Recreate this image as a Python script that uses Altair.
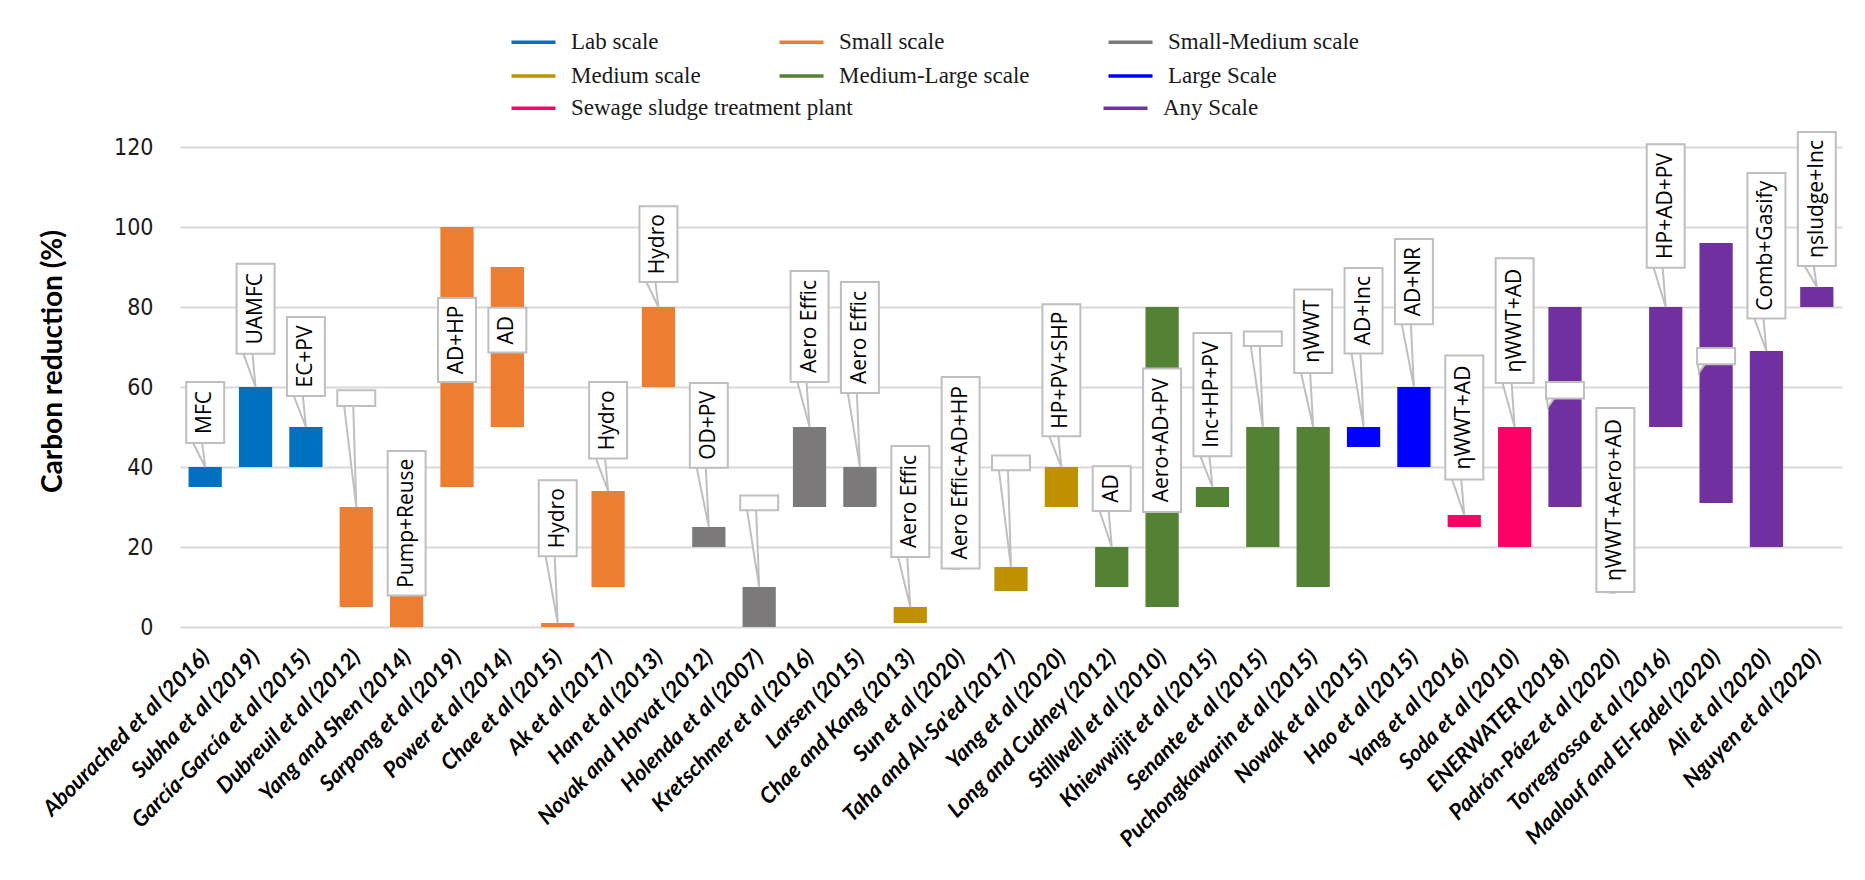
import json
import altair as alt
import pandas as pd

# ---------------- data ----------------
studies = [
    "Abourached et al (2016)", "Subha et al (2019)", "García-García et al (2015)",
    "Dubreuil et al (2012)", "Yang and Shen (2014)", "Sarpong et al (2019)",
    "Power et al (2014)", "Chae et al (2015)", "Ak et al (2017)", "Han et al (2013)",
    "Novak and Horvat (2012)", "Holenda et al (2007)", "Kretschmer et al (2016)",
    "Larsen (2015)", "Chae and Kang (2013)", "Sun et al (2020)",
    "Taha and Al-Sa'ed (2017)", "Yang et al (2020)", "Long and Cudney (2012)",
    "Stillwell et al (2010)", "Khiewwijit et al (2015)", "Senante et al (2015)",
    "Puchongkawarin et al (2015)", "Nowak et al (2015)", "Hao et al (2015)",
    "Yang et al (2016)", "Soda et al (2010)", "ENERWATER (2018)",
    "Padrón-Páez et al (2020)", "Torregrossa et al (2016)",
    "Maalouf and El-Fadel (2020)", "Ali et al (2020)", "Nguyen et al (2020)",
]
low = [35, 40, 40, 5, 0, 35, 50, 0, 10, 60, 20, 0, 30, 30, 1, None, 9, 30, 10, 5,
       30, 20, 10, 45, 40, 25, 20, 30, None, 50, 31, 20, 80]
high = [40, 60, 50, 30, 8, 100, 90, 1, 34, 80, 25, 10, 50, 40, 5, None, 15, 40, 20, 80,
        35, 50, 50, 50, 60, 28, 50, 80, None, 80, 96, 69, 85]
scale_of = ["Lab scale"] * 3 + ["Small scale"] * 7 + ["Small-Medium scale"] * 4 + \
           ["Medium scale"] * 4 + ["Medium-Large scale"] * 5 + ["Large Scale"] * 2 + \
           ["Sewage sludge treatment plant"] * 2 + ["Any Scale"] * 6
tech = ["MFC", "UAMFC", "EC+PV", "", "Pump+Reuse", "AD+HP", "AD", "Hydro", "Hydro",
        "Hydro", "OD+PV", "", "Aero Effic", "Aero Effic", "Aero Effic",
        "Aero Effic+AD+HP", "", "HP+PV+SHP", "AD", "Aero+AD+PV", "Inc+HP+PV", "",
        "ηWWT", "AD+Inc", "AD+NR", "ηWWT+AD", "ηWWT+AD", "", "ηWWT+Aero+AD",
        "HP+AD+PV", "", "Comb+Gasify", "ηsludge+Inc"]
# extent of each callout box (in % units) and where its pointer ends
box_low = [46, 68.3, 57.75, 55.25, 7.9, 61.25, 68.6, 17.7, 42.1, 86.25, 39.8, 29.2,
           61.25, 58.5, 17.5, 14.6, 39.2, 47.7, 29, 28.75, 42.7, 70.25, 63.5, 68.4,
           75.7, 36.85, 61, 57.1, 8.75, 89.8, 65.7, 77.1, 90.25]
box_high = [61.25, 90.8, 77.5, 59.2, 44, 82.25, 79.8, 36.7, 61.25, 105.2, 61, 32.9,
            89, 86.25, 45.25, 62.5, 42.9, 80.7, 40.2, 64.6, 73.5, 73.9, 84.4, 89.75,
            97, 67.9, 92.2, 61.25, 54.75, 120.7, 69.75, 113.5, 123.75]
pointer_to = [40, 60, 50, 30, 8, None, None, 1, 34, 80, 25, 10, 50, 40, 5, 14.5, 15,
              40, 20, None, 35, 50, 50, 50, 60, 28, 50, 55, 8.5, 80, 63.6, 69, 85]

categories = ["Lab scale", "Small scale", "Small-Medium scale", "Medium scale",
              "Medium-Large scale", "Large Scale", "Sewage sludge treatment plant",
              "Any Scale"]
cat_colors = ["#0070C0", "#ED7D31", "#7B7979", "#BF9000", "#548235", "#0000FF",
              "#FF0066", "#7030A0"]

# ---------------- tables ----------------
n = len(studies)
main = pd.DataFrame({
    "idx": list(range(n)), "study": studies, "lo": low, "hi": high,
    "scale": scale_of, "tech": tech, "blo": box_low, "bhi": box_high,
})
bars = main.dropna(subset=["lo", "hi"])
first_cats = categories[:6]
last_cats = categories[6:]
bars_a = bars[bars["scale"].isin(first_cats)]
bars_b = bars[bars["scale"].isin(last_cats)]

ptr_rows = []
for i in range(n):
    p = pointer_to[i]
    if p is None:
        continue
    inside = high[i] is not None and p < high[i]
    if inside:
        base = (-0.36, -0.22)
        tip = -0.34
    else:
        base = (-0.24, -0.06)
        tip = 0.0
    ptr_rows += [
        {"idx": i, "k": 0, "px": i + base[0], "py": box_low[i]},
        {"idx": i, "k": 1, "px": i + tip, "py": p},
        {"idx": i, "k": 2, "px": i + base[1], "py": box_low[i]},
    ]
ptrs = pd.DataFrame(ptr_rows)

# ---------------- scales / axes ----------------
label_expr = json.dumps(studies, ensure_ascii=False) + "[datum.value]"
xscale = alt.Scale(domain=[-0.5, n - 0.5], nice=False, zero=False)
xaxis = alt.Axis(
    title=None, values=list(range(n)), labelExpr=label_expr, grid=False,
    domain=False, ticks=False, labelAngle=-45, labelAlign="right",
    labelBaseline="middle", labelPadding=26, labelFont="Lato",
    labelFontSize=22, labelFontWeight="bold", labelFontStyle="italic",
    labelColor="#000000", labelOverlap=False, labelFlush=False, labelBound=False,
    labelLimit=400,
)
yscale = alt.Scale(domain=[0, 120], nice=False, zero=True)
yaxis = alt.Axis(
    title="Carbon reduction (%)", values=[0, 20, 40, 60, 80, 100, 120],
    grid=True, gridColor="#D9D9D9", gridWidth=2, domain=False, ticks=False,
    labelFont="Liberation Sans Narrow, DejaVu Sans Condensed, sans-serif",
    labelFontSize=23, labelColor="#1a1a1a", labelPadding=27,
    titleFont="Lato", titleFontSize=28, titleFontWeight="bold",
    titleColor="#000000", titleAngle=270, titleAlign="center",
    titleBaseline="bottom", titleX=-113, titleY=214,
)
xs = dict(scale=xscale, axis=xaxis)
ys = dict(scale=yscale, axis=yaxis)

legend_style = dict(
    title=None, orient="none", direction="horizontal",
    symbolType="M-2,-0.16H2V0.16H-2Z", symbolSize=484, symbolStrokeWidth=0,
    symbolOpacity=1, labelFont="Liberation Serif", labelFontSize=23,
    labelColor="#1a1a1a", labelOffset=26, labelLimit=400, rowPadding=10,
    gridAlign="each", padding=0,
)
legend_top = alt.Legend(legendX=342, legendY=-116.5, columns=3, columnPadding=78,
                        **legend_style)
legend_bottom = alt.Legend(legendX=342, legendY=-50.5, columns=2, columnPadding=250,
                           **legend_style)

bar_a = alt.Chart(bars_a).transform_calculate(
    x0="datum.idx - 0.33", x1="datum.idx + 0.33"
).mark_bar(stroke=None).encode(
    x=alt.X("x0:Q", **xs),
    x2="x1:Q",
    y=alt.Y("lo:Q", **ys),
    y2="hi:Q",
    color=alt.Color("scale:N", scale=alt.Scale(domain=first_cats, range=cat_colors[:6]),
                    legend=legend_top),
)
bar_b = alt.Chart(bars_b).transform_calculate(
    x0="datum.idx - 0.33", x1="datum.idx + 0.33"
).mark_bar(stroke=None).encode(
    x=alt.X("x0:Q", **xs),
    x2="x1:Q",
    y=alt.Y("lo:Q", **ys),
    y2="hi:Q",
    fill=alt.Fill("scale:N", scale=alt.Scale(domain=last_cats, range=cat_colors[6:]),
                  legend=legend_bottom),
)

ptr_layer = alt.Chart(ptrs).mark_line(
    stroke="#BFBFBF", strokeWidth=2, fill="white", interpolate="linear"
).encode(
    x=alt.X("px:Q", **xs),
    y=alt.Y("py:Q", **ys),
    detail="idx:N",
    order="k:Q",
)

box_layer = alt.Chart(main).transform_calculate(
    bx0="datum.idx - 0.377", bx1="datum.idx + 0.377"
).mark_rect(fill="white", stroke="#BFBFBF", strokeWidth=2).encode(
    x=alt.X("bx0:Q", **xs),
    x2="bx1:Q",
    y=alt.Y("blo:Q", **ys),
    y2="bhi:Q",
)

text_layer = alt.Chart(main).transform_filter("datum.tech != ''").transform_calculate(
    ym="(datum.blo + datum.bhi) / 2"
).mark_text(
    angle=270, font="Open Sans", fontSize=21, color="#000000",
    align="center", baseline="middle"
).encode(
    x=alt.X("idx:Q", **xs),
    y=alt.Y("ym:Q", **ys),
    text="tech:N",
)

chart = alt.layer(bar_a, bar_b, ptr_layer, box_layer, text_layer).properties(
    width=1662, height=480,
    autosize=alt.AutoSizeParams(type="none"),
    padding={"left": 180, "top": 147, "right": 23, "bottom": 253},
    background="white",
).configure_view(stroke=None)

chart.save("out.html", embed_options={"renderer": "svg", "actions": False})
